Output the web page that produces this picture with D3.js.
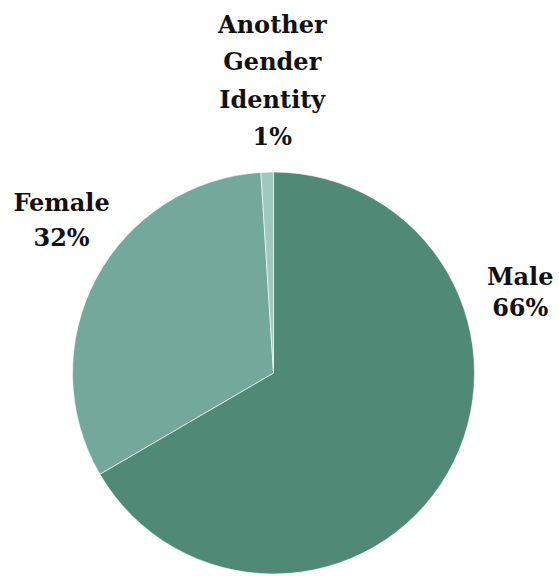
<!DOCTYPE html>
<html>
<head>
<meta charset="utf-8">
<script src="https://cdn.jsdelivr.net/npm/d3@7"></script>
<style>
  html, body { margin: 0; padding: 0; background: #fff; }
  svg { display: block; }
</style>
</head>
<body>
<svg id="chart" width="559" height="576"></svg>
<script>
// chart data
var categories = ["Male", "Female", "Another Gender Identity"];
var shares = [66.6, 32.4, 1.0];
var pctLabels = ["66%", "32%", "1%"];
var colors = ["#508a76", "#74a89a", "#9dc9be"];

// label text lines (title words split like the original)
var labelLines = [["Male"], ["Female"], ["Another", "Gender", "Identity"]];

var width = 559, height = 576,
  cx = 273.5, cy = 373, radius = 201;

var data = categories.map(function(c, i) {
  return { name: c, value: shares[i], pct: pctLabels[i], lines: labelLines[i], color: colors[i] };
});

var svg = d3.select("#chart");
var g = svg.append("g").attr("transform", "translate(" + cx + "," + cy + ")");

var pie = d3.pie().sort(null).value(function(d) { return d.value; });
var arc = d3.arc().innerRadius(0).outerRadius(radius);

var arcs = pie(data);

g.selectAll("path")
  .data(arcs)
  .enter()
  .append("path")
  .attr("d", arc)
  .attr("fill", function(d) { return d.data.color; })
  .attr("stroke", "#ffffff")
  .attr("stroke-width", 0.6);

// label anchors: placed outside the pie like a "best fit" layout
// (angle in degrees clockwise from 12 o'clock, distance from centre, baseline of last line)
var labelPlace = [
  { angle: 73, dist: 258, dy: 18 },
  { angle: -54, dist: 262, dy: 27 },
  { angle: -0.3, dist: 228, dy: 0 }
];
var lineStep = [31, 35, 37.5];

var labels = g.selectAll("text.lbl")
  .data(arcs)
  .enter()
  .append("text")
  .attr("class", "lbl")
  .attr("text-anchor", "middle")
  .attr("font-family", "'DejaVu Serif', serif")
  .attr("font-weight", "bold")
  .attr("font-size", 24)
  .attr("fill", "#111")
  .each(function(d, i) {
    var p = labelPlace[i];
    var a = p.angle * Math.PI / 180;
    var x = Math.sin(a) * p.dist;
    var lines = d.data.lines.concat([d.data.pct]);
    var y = -Math.cos(a) * p.dist + p.dy - (lines.length - 1) * lineStep[i];
    var t = d3.select(this);
    lines.forEach(function(l, k) {
      t.append("tspan")
        .attr("x", x)
        .attr("y", y + k * lineStep[i])
        .text(l);
    });
  });
</script>
</body>
</html>
